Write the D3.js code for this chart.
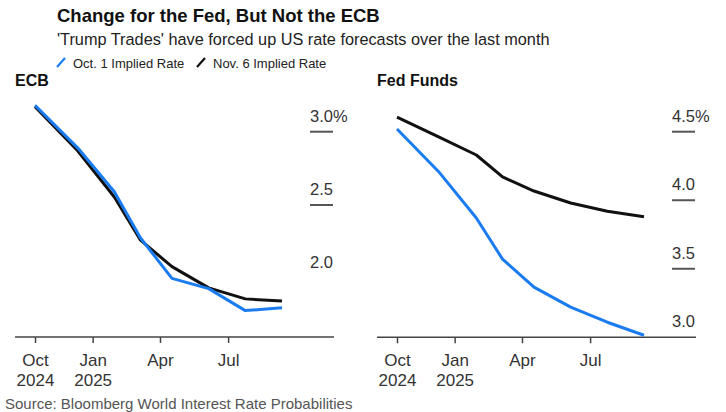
<!DOCTYPE html>
<html>
  <head>
    <meta charset="utf-8">
    <script src="https://d3js.org/d3.v7.min.js"></script>
    <style>
      body { margin: 0px; background: #fff; }
      text { font-family: "Liberation Sans", Arial, sans-serif; fill: #222; }
      .title { font-size: 18.5px; font-weight: bold; fill: #111; }
      .subtitle { font-size: 16.3px; }
      .legend { font-size: 13px; }
      .panel-title { font-size: 16px; font-weight: bold; fill: #111; }
      .ylab { font-size: 16.5px; fill: #333; }
      .tick text { font-size: 17px; fill: #333; }
      .tick line { stroke: #444; stroke-width: 1.5; }
      .domain { display: none; }
      .source { font-size: 15px; fill: #555; }
    </style>
  </head>
  <body>
    <svg width="726" height="412"></svg>
    <script>
      // meeting dates used as x positions
      const dates = ['2024-10-16', '2024-12-12', '2025-01-30', '2025-03-06',
                     '2025-04-17', '2025-06-05', '2025-07-24', '2025-09-11'];
      const ecbOct1 = [3.18, 2.89, 2.59, 2.275, 2.00, 1.93, 1.78, 1.80];
      const ecbNov6 = [3.17, 2.87, 2.555, 2.26, 2.08, 1.935, 1.86, 1.845];
      const fedOct1 = [4.52, 4.20, 3.87, 3.57, 3.366, 3.22, 3.11, 3.015];
      const fedNov6 = [4.607, 4.458, 4.33, 4.17, 4.067, 3.98, 3.92, 3.88];
      const xTicks = ['2024-10-16', '2025-01-01', '2025-04-01', '2025-07-01'];
      const xTickLabels = [['Oct', '2024'], ['Jan', '2025'], ['Apr', ''], ['Jul', '']];
      const ecbYTicks = [3.0, 2.5, 2.0];
      const fedYTicks = [4.5, 4.0, 3.5, 3.0];

      const blue = '#1b7cf2';
      const black = '#111';
      const parse = d3.timeParse('%Y-%m-%d');

      const svg = d3.select('svg');

      svg.append('text').attr('class', 'title').attr('x', 57).attr('y', 22)
        .text('Change for the Fed, But Not the ECB');
      svg.append('text').attr('class', 'subtitle').attr('x', 57).attr('y', 45)
        .text("'Trump Trades' have forced up US rate forecasts over the last month");

      // legend
      const legend = [['Oct. 1 Implied Rate', blue, 57], ['Nov. 6 Implied Rate', black, 197]];
      legend.forEach(([label, color, lx]) => {
        svg.append('line').attr('x1', lx).attr('y1', 67).attr('x2', lx + 8).attr('y2', 58)
          .attr('stroke', color).attr('stroke-width', 2.2);
        svg.append('text').attr('class', 'legend').attr('x', lx + 16).attr('y', 67.5).text(label);
      });

      function panel(opts) {
        const x = d3.scaleTime()
          .domain([parse(dates[0]), parse(dates[dates.length - 1])])
          .range([opts.x0, opts.x0 + 247]);
        const y = d3.scaleLinear().domain(opts.yDomain).range([opts.yBase, 131.7]);
        const g = svg.append('g');

        g.append('text').attr('class', 'panel-title').attr('x', opts.x0 - 20).attr('y', 86)
          .text(opts.title);

        // baseline
        g.append('line')
          .attr('x1', x.range()[0] - 20).attr('x2', x.range()[1] + 52)
          .attr('y1', opts.yBase).attr('y2', opts.yBase)
          .attr('stroke', '#444').attr('stroke-width', 1.5);

        const xAxis = d3.axisBottom(x)
          .tickValues(xTicks.map(parse))
          .tickSize(6)
          .tickFormat('');
        const xg = g.append('g').attr('transform', `translate(0,${opts.yBase})`).call(xAxis);
        xg.selectAll('.tick').each(function(d, i) {
          const t = d3.select(this).append('text').attr('text-anchor', 'middle');
          t.append('tspan').attr('x', 0).attr('y', 28.5).text(xTickLabels[i][0]);
          t.append('tspan').attr('x', 0).attr('y', 48.5).text(xTickLabels[i][1]);
        });

        // y labels on the right, each above a short rule
        const lx = x.range()[1] + 28;
        opts.yTicks.forEach((v, i) => {
          g.append('text').attr('class', 'ylab').attr('x', lx).attr('y', y(v) - 10)
            .text(i === 0 ? v.toFixed(1) + '%' : v.toFixed(1));
          if (v > opts.yDomain[0] && !(opts.noRule || []).includes(v)) {
            g.append('line').attr('x1', lx).attr('x2', lx + 23)
              .attr('y1', y(v)).attr('y2', y(v))
              .attr('stroke', '#555').attr('stroke-width', 2);
          }
        });

        const line = d3.line().x((d, i) => x(parse(dates[i]))).y(d => y(d));
        [[opts.nov6, black], [opts.oct1, blue]].forEach(([vals, color]) => {
          g.append('path').datum(vals)
            .attr('fill', 'none').attr('stroke', color)
            .attr('stroke-width', 3).attr('stroke-linejoin', 'round')
            .attr('d', line);
        });
      }

      panel({ title: 'ECB', x0: 35, yDomain: [1.6, 3.0], yBase: 337, yTicks: ecbYTicks,
              noRule: [2.0], oct1: ecbOct1, nov6: ecbNov6 });
      panel({ title: 'Fed Funds', x0: 397, yDomain: [3.0, 4.5], yBase: 337.3, yTicks: fedYTicks,
              oct1: fedOct1, nov6: fedNov6 });

      svg.append('text').attr('class', 'source').attr('x', 5).attr('y', 409)
        .text('Source: Bloomberg World Interest Rate Probabilities');
    </script>
  </body>
</html>
